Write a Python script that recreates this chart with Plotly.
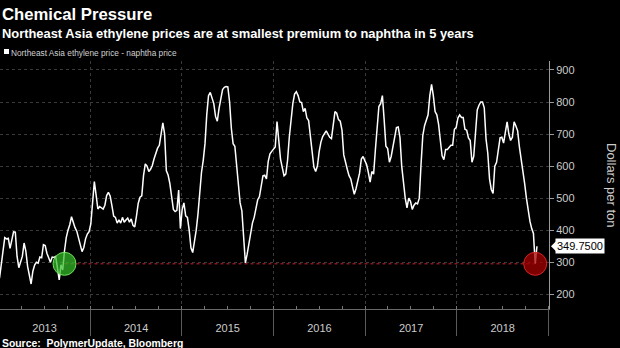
import pandas as pd
import plotly.graph_objects as go

# Northeast Asia ethylene minus naphtha spread, USD per ton, weekly from 4 Jan 2013
spread = [
    250, 290, 335, 377, 373, 375, 343, 368, 395, 394,
    318, 283, 301, 318, 360, 335, 287, 255, 232, 272,
    291, 300, 297, 316, 314, 355, 352, 328, 313, 300,
    316, 315, 318, 274, 245, 292, 276, 335, 377, 400,
    417, 442, 423, 408, 397, 374, 347, 333, 346, 373,
    388, 395, 420, 480, 552, 510, 466, 474, 470, 466,
    478, 508, 518, 507, 477, 444, 440, 422, 432, 422,
    440, 425, 432, 438, 425, 435, 415, 410, 445, 484,
    503, 507, 570, 607, 600, 583, 590, 602, 623, 640,
    656, 665, 700, 735, 700, 585, 572, 545, 505, 465,
    458, 462, 525, 405, 465, 485, 445, 440, 400, 345,
    330, 360, 400, 450, 525, 580, 618, 670, 760, 820,
    830, 812, 795, 755, 740, 780, 815, 839, 846, 848,
    847, 800, 718, 670, 662, 600, 557, 485, 460, 365,
    298, 325, 357, 400, 422, 440, 474, 495, 505, 535,
    570, 572, 560, 615, 638, 646, 655, 660, 739, 665,
    622, 595, 570, 575, 618, 690, 755, 795, 825, 832,
    820, 800, 798, 770, 780, 750, 742, 692, 637, 597,
    583, 600, 645, 675, 692, 700, 710, 700, 690, 686,
    725, 770, 765, 745, 740, 712, 635, 607, 590, 570,
    560, 535, 512, 530, 555, 578, 622, 630, 617, 605,
    580, 550, 583, 575, 650, 715, 786, 795, 820, 745,
    662, 655, 612, 630, 660, 698, 720, 722, 690, 600,
    537, 500, 470, 500, 490, 465, 478, 485, 482, 500,
    605, 695, 726, 745, 760, 820, 855, 820, 770, 760,
    730, 680, 632, 620, 652, 652, 660, 665, 665, 715,
    720, 750, 760, 752, 752, 715, 712, 688, 680, 612,
    630, 690, 775, 790, 800, 800, 782, 685, 640, 560,
    527, 515, 600, 612, 645, 688, 690, 672, 705, 738,
    700, 680, 690, 738, 725, 710, 660, 625, 590, 545,
    500, 457, 428, 405, 390, 295, 349.75,
]
dates = pd.date_range("2013-01-04", periods=len(spread), freq="7D")

# Matching lows in 2013 and late 2018
floor_level = 295
low_2013 = "2013-09-20"
low_2018 = "2018-11-09"

series_name = "Northeast Asia ethylene price - naphtha price"
years_start, years_end = "2013-01-06", "2019-01-03"
y_range = [154, 928]

FONT = "Liberation Sans, Arial, sans-serif"

fig = go.Figure()

fig.add_trace(go.Scatter(
    x=dates, y=spread, mode="lines",
    line=dict(color="#ffffff", width=1.5),
    hoverinfo="skip", showlegend=False,
))

# dotted red reference level between the two lows
fig.add_trace(go.Scatter(
    x=[low_2013, low_2018], y=[floor_level, floor_level], mode="lines",
    line=dict(color="#c8202a", width=1, dash="dot"),
    hoverinfo="skip", showlegend=False,
))

fig.add_trace(go.Scatter(
    x=[low_2013], y=[floor_level], mode="markers",
    marker=dict(size=23, color="rgba(52,190,40,0.72)",
                line=dict(color="rgba(120,235,100,0.9)", width=1)),
    hoverinfo="skip", showlegend=False,
))
fig.add_trace(go.Scatter(
    x=[low_2018], y=[floor_level], mode="markers",
    marker=dict(size=23, color="rgba(165,0,0,0.75)",
                line=dict(color="rgba(225,40,40,0.9)", width=1)),
    hoverinfo="skip", showlegend=False,
))

last_value = spread[-1]

fig.update_layout(
    width=620, height=348,
    margin=dict(l=0, r=71, t=61, b=39),
    paper_bgcolor="#000000", plot_bgcolor="#000000",
    font=dict(family=FONT, color="#cccccc", size=11),
    showlegend=False,
    xaxis=dict(
        type="date", range=[years_start, years_end],
        tick0="2013-01-01", dtick="M12", tickformat="%Y",
        ticklabelmode="period",
        ticks="outside", ticklen=26, tickcolor="#5a5a5a", tickwidth=1,
        ticklabelstandoff=-17,
        tickfont=dict(size=11, color="#cccccc"),
        showgrid=True, gridcolor="#3a3a3a", griddash="dot", gridwidth=1,
        showline=True, linecolor="#6a6a6a", linewidth=1,
        minor=dict(dtick="M3", ticks="inside", ticklen=3, tickcolor="#777777",
                   showgrid=False),
        zeroline=False,
    ),
    yaxis=dict(
        side="right", range=y_range, tick0=0, dtick=100,
        ticks="outside", ticklen=4, tickcolor="#999999",
        tickfont=dict(size=11, color="#cccccc"),
        showgrid=True, gridcolor="#3a3a3a", griddash="dot", gridwidth=1,
        showline=True, linecolor="#999999", linewidth=1,
        zeroline=False,
    ),
)

fig.add_annotation(
    text="<b>Chemical Pressure</b>", xref="paper", yref="paper",
    x=0, y=1, xanchor="left", yanchor="middle", xshift=0, yshift=47,
    showarrow=False, font=dict(family=FONT, size=16.7, color="#ffffff"),
)
fig.add_annotation(
    text="<b>Northeast Asia ethylene prices are at smallest premium to naphtha in 5 years</b>",
    xref="paper", yref="paper", x=0, y=1, xanchor="left", yanchor="middle",
    xshift=0, yshift=28, showarrow=False,
    font=dict(family=FONT, size=12.9, color="#ffffff"),
)
fig.add_annotation(
    text=series_name, xref="paper", yref="paper", x=0, y=1,
    xanchor="left", yanchor="middle", xshift=9, yshift=8, showarrow=False,
    font=dict(family=FONT, size=8.3, color="#d0d0d0"),
)
fig.add_shape(
    type="rect", xref="paper", yref="paper",
    xsizemode="pixel", ysizemode="pixel", xanchor=0, yanchor=1,
    x0=4, x1=9, y0=7, y1=12,
    fillcolor="#ffffff", line=dict(width=0),
)
fig.add_annotation(
    text="<b>Source:&nbsp; PolymerUpdate, Bloomberg</b>", xref="paper", yref="paper",
    x=0, y=0, xanchor="left", yanchor="middle", xshift=0, yshift=-34,
    showarrow=False, font=dict(family=FONT, size=10.4, color="#ffffff"),
)
fig.add_annotation(
    text="Dollars per ton", xref="paper", yref="paper", x=1, y=0.5,
    xanchor="center", yanchor="middle", xshift=63, textangle=90,
    showarrow=False, font=dict(family=FONT, size=13, color="#cccccc"),
)

# last-value tag on the right axis
fig.add_annotation(
    text=f"{last_value:.4f}", xref="paper", yref="y", x=1, y=last_value,
    xanchor="left", yanchor="middle", xshift=6, showarrow=False,
    bgcolor="#ffffff", borderpad=1,
    font=dict(family=FONT, size=11, color="#000000"),
)
fig.add_shape(
    type="path", xref="paper", yref="y",
    xsizemode="pixel", ysizemode="pixel", xanchor=1, yanchor=last_value,
    path="M 2 0 L 7 5 L 7 -5 Z",
    fillcolor="#ffffff", line=dict(width=0),
)

fig.write_html("out.html")
